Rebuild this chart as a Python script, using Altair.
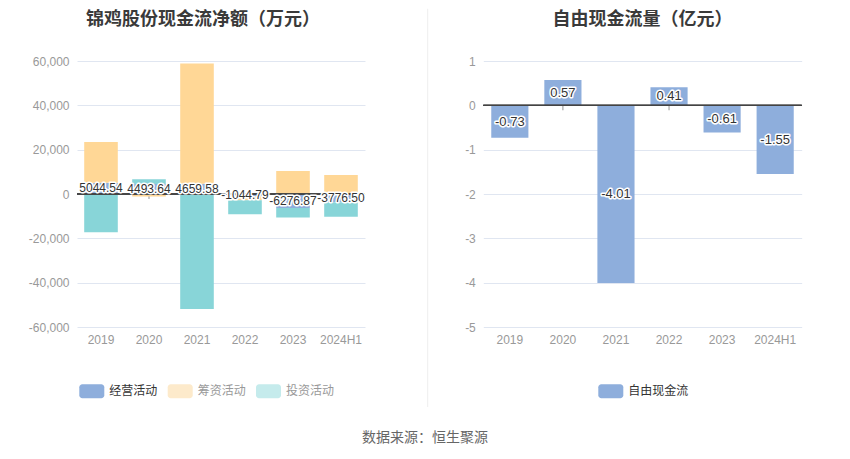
import altair as alt
import pandas as pd

years = ["2019", "2020", "2021", "2022", "2023", "2024H1"]
operating = [5044.54, 4493.64, 4659.58, -1044.79, -6276.87, -3776.50]
financing = [18460, -1150, 54240, -1800, 10400, 8590]
investing = [-17300, 2170, -51850, -6330, -4300, -6500]
fcf = [-0.73, 0.57, -4.01, 0.41, -0.61, -1.55]

series_names = ["经营活动", "筹资活动", "投资活动"]
series_colors = ["#8eaedc", "#ffd796", "#88d5d8"]
legend_swatch = ["#8eaedc", "#fdeacb", "#c5ebec"]
legend_text_color = ["#333333", "#999999", "#999999"]

left_title = "锦鸡股份现金流净额（万元）"
right_title = "自由现金流量（亿元）"
fcf_name = "自由现金流"
footer = "数据来源：恒生聚源"

FONT = "Noto Sans CJK SC"
NUM = "Liberation Sans, Noto Sans CJK SC"
GRID = "#e0e6f1"
LABEL = "#999999"

rows = []
for i, y in enumerate(years):
    for k, (name, vals) in enumerate(zip(series_names, [operating, financing, investing])):
        rows.append({"year": y, "series": name, "value": vals[i], "ord": k})
cash = pd.DataFrame(rows)
op_df = pd.DataFrame({"year": years, "value": operating,
                      "lbl": [f"{v:.2f}" for v in operating]})
fcf_df = pd.DataFrame({"year": years, "value": fcf,
                       "lbl": [f"{v:.2f}" for v in fcf]})

W1, W2, H = 288, 318.4, 266

def xenc():
    return alt.X("year:N", sort=years, title=None,
                 scale=alt.Scale(paddingInner=0.3, paddingOuter=0.15),
                 axis=alt.Axis(domain=False, ticks=False, labelPadding=7, labelColor=LABEL,
                               labelFontSize=12, labelFont=NUM, labelAngle=0))

def text_layer(text, x, y, size=13, color="#333", weight="normal", align="center"):
    return alt.Chart(pd.DataFrame({"t": [text]})).mark_text(
        fontSize=size, color=color, fontWeight=weight, font=FONT, align=align, baseline="middle"
    ).encode(x=alt.value(x), y=alt.value(y), text="t:N")

def legend_item(name, sw, tc, x0, y0):
    rect = alt.Chart(pd.DataFrame({"t": [name]})).mark_rect(color=sw, cornerRadius=3).encode(
        x=alt.value(x0), x2=alt.value(x0 + 25), y=alt.value(y0 - 7), y2=alt.value(y0 + 7))
    txt = alt.Chart(pd.DataFrame({"t": [name]})).mark_text(
        fontSize=12, color=tc, font=FONT, align="left", baseline="middle"
    ).encode(x=alt.value(x0 + 30), y=alt.value(y0), text="t:N")
    return [rect, txt]

HYPHEN_LABEL = "(datum.value < 0 ? '-' : '') + format(abs(datum.value), ',.0f')"
HYPHEN_LABEL_R = "(datum.value < 0 ? '-' : '') + format(abs(datum.value), 'd')"

# ---------- left chart ----------
yl = alt.Y("value:Q", title=None, stack="zero",
           scale=alt.Scale(domain=[-60000, 60000], nice=False),
           axis=alt.Axis(values=[-60000, -40000, -20000, 0, 20000, 40000, 60000],
                         labelExpr=HYPHEN_LABEL,
                         domain=False, ticks=False, grid=True, gridColor=GRID, labelColor=LABEL,
                         labelFontSize=12, labelFont=NUM, labelPadding=8))

anchor = alt.Chart(pd.DataFrame({"t": [0]})).mark_rule(opacity=0, strokeWidth=1).encode(
    x=alt.value(-68.5), y=alt.value(-52.2), y2=alt.value(-40))
sep = alt.Chart(pd.DataFrame({"t": [0]})).mark_rule(color="#eeeeee", strokeWidth=1).encode(
    x=alt.value(350.7), y=alt.value(-52.2), y2=alt.value(346))

ticks_l = alt.Chart(op_df).mark_tick(orient="vertical", size=5, thickness=1, color="#666",
                                     yOffset=2.5).encode(x=xenc(), y=alt.datum(0))
bars_l = alt.Chart(cash).mark_bar().encode(
    x=xenc(), y=yl,
    color=alt.Color("series:N", scale=alt.Scale(domain=series_names, range=series_colors), legend=None),
    order=alt.Order("ord:Q"))
zero_l = alt.Chart(op_df).mark_rule(color="#444", strokeWidth=1).encode(y=alt.datum(0))
lab_base = alt.Chart(op_df).transform_calculate(mid="datum.value/2")
halo_l = lab_base.mark_text(fontSize=12, font=NUM, color="white", stroke="white", strokeWidth=3,
                            strokeJoin="round").encode(x=xenc(), y=alt.Y("mid:Q"), text="lbl:N")
txt_l = lab_base.mark_text(fontSize=12, font=NUM, color="#333").encode(
    x=xenc(), y=alt.Y("mid:Q"), text="lbl:N")

leg_l = []
for name, sw, tc, x0 in zip(series_names, legend_swatch, legend_text_color, [2.3, 90.7, 179]):
    leg_l += legend_item(name, sw, tc, x0, 330.3)

left = alt.layer(
    anchor, sep, ticks_l, bars_l, zero_l, halo_l, txt_l,
    text_layer(left_title, 126, -41, size=18, color="#3a3a3a", weight="bold"),
    text_layer(footer, 348, 377, size=14, color="#666"),
    *leg_l
).properties(width=W1, height=H)

# ---------- right chart ----------
yr = alt.Y("value:Q", title=None,
           scale=alt.Scale(domain=[-5, 1], nice=False),
           axis=alt.Axis(values=[-5, -4, -3, -2, -1, 0, 1], labelExpr=HYPHEN_LABEL_R,
                         domain=False, ticks=False, grid=True,
                         gridColor=GRID, labelColor=LABEL, labelFontSize=12, labelFont=NUM,
                         labelPadding=8))
ticks_r = alt.Chart(fcf_df).mark_tick(orient="vertical", size=5, thickness=1, color="#666",
                                      yOffset=2.5).encode(x=xenc(), y=alt.datum(0))
bars_r = alt.Chart(fcf_df).mark_bar(color="#8eaedc").encode(x=xenc(), y=yr)
zero_r = alt.Chart(fcf_df).mark_rule(color="#444", strokeWidth=1).encode(y=alt.datum(0))
rb = alt.Chart(fcf_df).transform_calculate(mid="datum.value/2")
halo_r = rb.mark_text(fontSize=13, font=NUM, color="white", stroke="white", strokeWidth=3,
                      strokeJoin="round").encode(x=xenc(), y=alt.Y("mid:Q"), text="lbl:N")
txt_r = rb.mark_text(fontSize=13, font=NUM, color="#333").encode(x=xenc(), y=alt.Y("mid:Q"), text="lbl:N")

leg_r = legend_item(fcf_name, "#8eaedc", "#333333", 115, 330.3)

right = alt.layer(
    ticks_r, bars_r, zero_r, halo_r, txt_r,
    text_layer(right_title, 159.2, -41, size=18, color="#3a3a3a", weight="bold"),
    *leg_r
).properties(width=W2, height=H)

chart = alt.hconcat(left, right, spacing=118.3, bounds="flush").properties(
    padding=0
).configure_view(stroke=None)

chart.save("out.html", embed_options={"renderer": "svg", "actions": False})
